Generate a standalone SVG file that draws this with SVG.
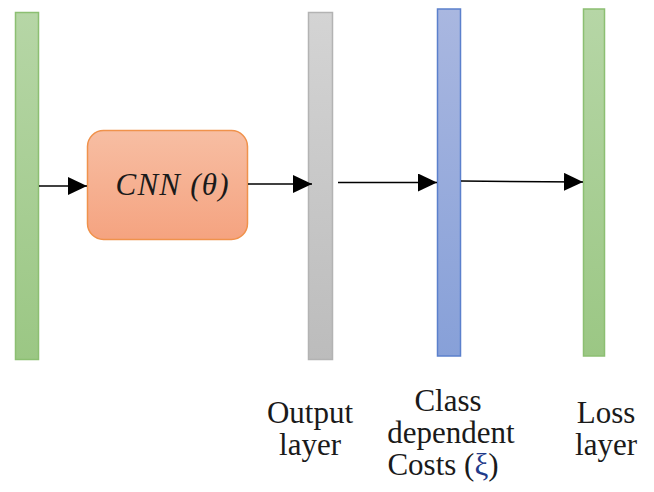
<svg xmlns="http://www.w3.org/2000/svg" width="654" height="492" viewBox="0 0 654 492">
<defs>
<linearGradient id="gGreen" x1="0" y1="0" x2="0" y2="1"><stop offset="0" stop-color="#b6d6a6"/><stop offset="1" stop-color="#9bc784"/></linearGradient>
<linearGradient id="gGray" x1="0" y1="0" x2="0" y2="1"><stop offset="0" stop-color="#d4d4d4"/><stop offset="1" stop-color="#bcbcbc"/></linearGradient>
<linearGradient id="gBlue" x1="0" y1="0" x2="0" y2="1"><stop offset="0" stop-color="#a9b7e0"/><stop offset="1" stop-color="#87a0d8"/></linearGradient>
<linearGradient id="gOrange" x1="0" y1="0" x2="0" y2="1"><stop offset="0" stop-color="#f7bea3"/><stop offset="1" stop-color="#f5a380"/></linearGradient>
<marker id="arr" markerUnits="userSpaceOnUse" markerWidth="20" markerHeight="18" refX="19" refY="9" orient="auto"><path d="M0,0 L19,9 L0,18 z" fill="#000"/></marker>
</defs>
<style>
.lbl{font-family:"Liberation Serif","Times New Roman",serif;font-size:31px;fill:#1a1a1a;text-anchor:middle}
.conn line{stroke:#000;stroke-width:1.5;marker-end:url(#arr)}
</style>
<g id="input"><rect x="15.5" y="12.5" width="23" height="347" fill="url(#gGreen)" stroke="#8cbf72" stroke-width="1.5"/></g>
<g id="cnn"><rect x="87.5" y="130.5" width="160" height="109" rx="16" fill="url(#gOrange)" stroke="#f0924c" stroke-width="1.5"/>
<text x="172" y="195" font-family="'Liberation Serif',serif" font-style="italic" font-size="31" fill="#1a1a1a" text-anchor="middle" textLength="113" lengthAdjust="spacing">CNN (θ)</text></g>
<g id="output"><rect x="308.5" y="12.5" width="24" height="347" fill="url(#gGray)" stroke="#b3b3b3" stroke-width="1.5"/>
<text class="lbl" x="310" y="422.5">Output</text><text class="lbl" x="310" y="455">layer</text></g>
<g id="costs"><rect x="437.5" y="9" width="23" height="347" fill="url(#gBlue)" stroke="#5b80cc" stroke-width="1.5"/>
<text class="lbl" x="448" y="410.5">Class</text><text class="lbl" x="451" y="443">dependent</text><text class="lbl" x="443" y="475">Costs (<tspan fill="#1f3a8a">ξ</tspan>)</text></g>
<g id="loss"><rect x="583.5" y="9" width="21" height="347" fill="url(#gGreen)" stroke="#8cbf72" stroke-width="1.5"/>
<text class="lbl" x="606" y="422.5">Loss</text><text class="lbl" x="606" y="455">layer</text></g>
<g class="conn">
<line x1="39" y1="186" x2="87" y2="186"/>
<line x1="248" y1="184" x2="312" y2="184"/>
<line x1="338" y1="182.5" x2="437" y2="182.5"/>
<line x1="461" y1="181" x2="583" y2="182"/>
</g>
</svg>
